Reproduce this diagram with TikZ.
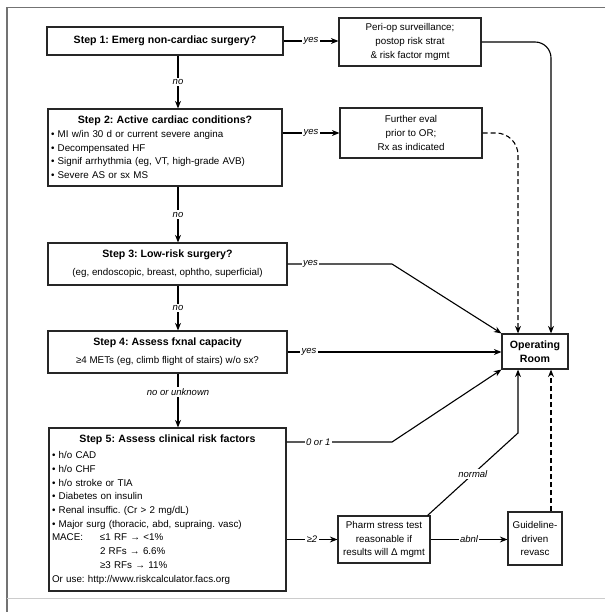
\documentclass[tikz,border=0pt]{standalone}
\usepackage{fontspec}
\setmainfont{Liberation Sans}
\usetikzlibrary{arrows.meta}
\frenchspacing
\tikzset{
  box/.style={draw=black!85, line width=1.2pt, inner sep=3pt, align=center,
    font=\fontsize{9.8}{13.7}\selectfont},
  lbl/.style={fill=white, inner sep=1.5pt, font=\fontsize{9.5}{11}\selectfont\itshape},
  arr/.style={line width=1.1pt, -{Stealth[length=7.5pt,width=6pt]}},
  dsh/.style={arr, dash pattern=on 5pt off 3pt},
  ttl/.style={font=\fontsize{10.6}{13.7}\selectfont\bfseries},
}
\begin{document}
\begin{tikzpicture}[x=1pt,y=-1pt]
  \useasboundingbox (0,0) rectangle (605,612);
  % outer frame
  \draw[black!55, line width=1.8pt] (605,7.5) -- (7,7.5) -- (7,612);
  \draw[black!20, line width=1pt] (7,598) -- (605,598);

  % left column
  \node[box, minimum width=236pt, minimum height=28pt] (s1) at (165,41)
    {\fontsize{10.6}{13.7}\selectfont\bfseries Step 1: Emerg non-cardiac surgery?};
  \node[box, text width=228pt, minimum height=77pt, align=left] (s2) at (165,147.5)
    {\makebox[228pt]{\fontsize{10.6}{13.7}\selectfont\bfseries Step 2: Active cardiac conditions?}\\
     • MI w/in 30 d or current severe angina\\
     • Decompensated HF\\
     • Signif arrhythmia (eg, VT, high-grade AVB)\\
     • Severe AS or sx MS};
  \node[box, minimum width=239pt, minimum height=42pt] (s3) at (167.5,264)
    {{\fontsize{10.6}{13.7}\selectfont\bfseries Step 3: Low-risk surgery?}\\[4pt]
     (eg, endoscopic, breast, ophtho, superficial)};
  \node[box, minimum width=239pt, minimum height=42pt] (s4) at (167.5,352)
    {{\fontsize{10.6}{13.7}\selectfont\bfseries Step 4: Assess fxnal capacity}\\[4pt]
     ≥4 METs (eg, climb flight of stairs) w/o sx?};
  \node[box, text width=231pt, minimum height=163pt, align=left] (s5) at (167.5,509.5)
    {\makebox[231pt]{\fontsize{10.6}{13.7}\selectfont\bfseries Step 5: Assess clinical risk factors}\\[2.5pt]
     • h/o CAD\\
     • h/o CHF\\
     • h/o stroke or TIA\\
     • Diabetes on insulin\\
     • Renal insuffic. (Cr > 2 mg/dL)\\
     • Major surg (thoracic, abd, supraing. vasc)\\
     \makebox[48pt][l]{MACE:}≤1 RF → <1\%\\
     \hspace*{48pt}2 RFs → 6.6\%\\
     \hspace*{48pt}≥3 RFs → 11\%\\
     Or use: http://www.riskcalculator.facs.org};

  % right column
  \node[box, minimum width=142pt, minimum height=48pt] (peri) at (410,42)
    {Peri-op surveillance;\\postop risk strat\\\& risk factor mgmt};
  \node[box, minimum width=142pt, minimum height=50pt] (further) at (411,133)
    {Further eval\\prior to OR;\\Rx as indicated};
  \node[box, ttl, minimum width=66pt, minimum height=35pt] (OR) at (535,351.5)
    {Operating\\Room};
  \node[box, inner sep=1pt, minimum width=92pt, minimum height=47pt] (pharm) at (384,539.5)
    {Pharm stress test\\reasonable if\\results will Δ mgmt};
  \node[box, inner sep=1pt, minimum width=54pt, minimum height=53pt] (guide) at (535,538.5)
    {Guideline-\\driven\\revasc};

  % main "no" path
  \coordinate (vx) at (178,0);
  \draw[arr] (s1.south -| vx) -- node[lbl]{no} (s2.north -| vx);
  \draw[arr] (s2.south -| vx) -- node[lbl]{no} (s3.north -| vx);
  \draw[arr] (s3.south -| vx) -- node[lbl]{no} (s4.north -| vx);
  \draw[arr] (s4.south -| vx) -- node[lbl, pos=.35]{no or unknown} (s5.north -| vx);

  % "yes" branches
  \draw[arr] (s1.east) -- node[lbl]{yes} (s1.east -| peri.west);
  \draw[arr] (s2.east |- further) -- node[lbl]{yes} (further.west);
  \coordinate (k3) at (392,264);
  \draw[arr] (s3.east) -- node[lbl, pos=.22]{yes} (k3) -- (OR.north west);
  \draw[arr] (s4.east) -- node[lbl, pos=.1]{yes} (s4.east -| OR.west);
  \coordinate (k5) at (392,442);
  \draw[arr] (s5.east |- k5) -- node[lbl, pos=.3]{0 or 1} (k5) -- (OR.south west);
  \draw[arr] (s5.east |- pharm) -- node[lbl]{≥2} (pharm.west);
  \draw[arr] (pharm.east) -- node[lbl]{abnl} (pharm.east -| guide.west);
  \coordinate (kn) at (518,433);
  \draw[arr] ([xshift=-3pt]pharm.north east) -- node[lbl]{normal} (kn) -- (kn |- OR.south);

  % into the operating room
  \draw[arr, rounded corners=16pt] (peri.east) -| ([xshift=16pt]OR.north);
  \draw[dsh, rounded corners=22pt] (further.east) -| ([xshift=-17pt]OR.north);
  \draw[dsh] ([xshift=16pt]guide.north) -- ([xshift=16pt]OR.south);
\end{tikzpicture}
\end{document}
